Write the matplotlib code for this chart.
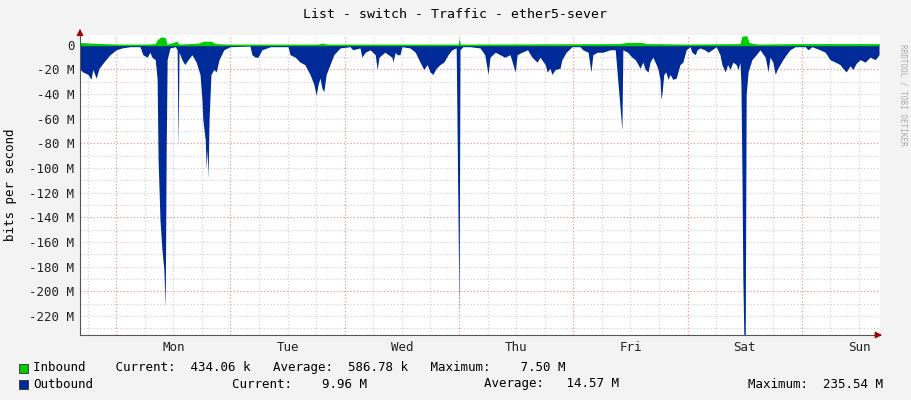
import matplotlib
matplotlib.use("Agg")
import matplotlib.pyplot as plt
import numpy as np

title = "List - switch - Traffic - ether5-sever"
day_labels = ["Mon", "Tue", "Wed", "Thu", "Fri", "Sat", "Sun"]
first_midnight_h = 7.6  # hours from chart start to Monday 00:00

out_h = [0,0.6,1.7,2.3,2.7,3.4,4.0,5.0,6.3,7.6,8.8,10.5,12.6,13.2,14.1,14.7,15.1,15.8,16.2,16.4,16.8,17.2,17.6,17.9,18.1,18.3,18.9,20,20.4,20.6,20.8,21.4,22,22.7,23.5,24.4,25.2,25.6,25.8,26.3,26.5,26.7,26.9,27.1,27.5,28.1,28.6,29.2,30.2,31.5,35.7,36.1,36.8,37.4,38.2,40,43.7,44.1,45.2,46.2,47.2,48.3,49.1,49.6,50,50.4,50.8,51.2,51.7,52.5,53.3,54.6,56.7,57.3,58.8,59.2,59.9,60.9,62,62.4,62.8,64,65.5,65.7,66.2,66.6,67.2,67.6,69.3,70.4,71.4,72.2,72.9,73.5,74.1,74.8,75.6,76.4,77.3,78.1,79.0,79.6,79.8,80.4,81.9,84,85,85.7,86.1,87.2,88.2,89.2,90.3,91.4,91.8,92.8,94,94.9,96,96.6,97.7,98.1,98.7,99.1,99.8,100.8,101.2,102.1,103.3,105,105.6,106.7,107.3,107.7,108.6,109.8,111.3,112.4,113.8,114,115,115.9,116.6,117.2,117.6,118.2,118.7,119.3,119.7,120.3,121,121.4,121.8,122,122.2,122.6,123,123.5,123.9,124.5,125.2,126,126.6,127.3,128.1,128.5,129.2,129.6,130.2,131.2,131.9,132.7,133.6,134.4,134.8,135.5,136,136.5,137.1,137.8,138.2,138.6,138.8,139,139.2,139.4,139.7,139.9,140.3,141.1,142,142.8,143.9,144.5,144.9,145.5,146,146.4,147,147.6,148.3,149.1,150.2,152.3,152.9,153.7,155.4,156.5,157.5,158.6,159.6,160.2,160.9,161.7,162.3,163,163.8,164.9,165.9,167,167.8]
out_m = [20,22,24,28,20,27,19,14,8,4,2.5,1.5,1.5,8,10,6,10,12,28,93,142,166,182,213,85,12,2.5,1.5,4,83,6,12,16,12,8,14,24,44,61,77,100,85,108,61,24,20,22,12,4,1.5,1,8,10,10,4,1.5,1.5,8,10,14,16,24,32,41,32,27,35,38,24,16,8,2.5,1.5,4,2.5,10,6,4,8,20,10,6,10,14,6,8,8,1.5,2.5,6,14,20,16,22,24,19,16,14,8,4,2.5,218,4,1.5,1.5,2.5,8,24,10,6,8,10,8,22,8,6,4,10,14,10,16,22,19,24,20,19,12,6,1.5,1.5,4,6,22,8,6,6,4,4,69,4,6,10,12,16,19,14,20,22,14,10,16,20,28,44,40,24,22,28,24,28,27,16,14,4,1.5,6,8,4,2.5,4,6,4,1.5,8,16,22,16,20,14,16,20,14,32,101,190,235,235,40,22,12,8,4,10,22,10,14,24,20,16,12,8,4,1.5,1.5,4,1.5,4,6,12,14,16,19,22,17,20,15,12,14,10,12,8]

in_h = [0,2,5,8,14,15.8,16.2,17,17.9,18.3,20.4,20.8,25,26,27.5,28.5,31,50,50.8,52,79.4,79.6,79.9,113,115,118,119,121,127,138.6,139,140,140.5,141.5,142.5,150,158,165,167.8]
in_m = [2,1.5,1,0.5,0.5,1,4,6.5,6,0.5,3,0.5,1.5,3,3,1,0.5,0.5,1.5,0.5,0.5,5,0.5,1,2,2,1,1,0.5,1,7,7.5,2,1,0.5,1,1,1,1]

W, H = 911, 400
fig = plt.figure(figsize=(W/100, H/100), dpi=100, facecolor="#f3f3f3")
ax = fig.add_axes([80/W, 1-335/H, 800/W, 300/H])
ax.set_facecolor("white")
mono = "DejaVu Sans Mono"

ax.fill_between(out_h, 0, -np.array(out_m), color="#002a97", lw=0)
ax.fill_between(in_h, 0, in_m, color="#00cc00", lw=0)
ax.plot([0, 168], [0, 0], color="#00cc00", lw=1)

ax.set_xlim(0, 168)
ax.set_ylim(-235.5, 8)

# grids
for g in np.arange(first_midnight_h - 6, 168, 6):
    ax.axvline(g, color="#cccccc", ls=(0, (1, 2)), lw=0.8, zorder=0)
for d in range(7):
    ax.axvline(first_midnight_h + 24*d, color="#ee9999", ls=(0, (1, 2)), lw=0.8, zorder=0.5)
for v in np.arange(0, -231, -10):
    ax.axhline(v, color="#cccccc", ls=(0, (1, 2)), lw=0.8, zorder=0)
for v in [-20, -80, -140, -200]:
    ax.axhline(v, color="#ee9999", ls=(0, (1, 2)), lw=0.8, zorder=0.5)

yt = list(range(0, -221, -20))
ax.set_yticks(yt)
ax.set_yticklabels(["0" if v == 0 else f"{v} M" for v in yt], fontfamily=mono, fontsize=9)
xt = [first_midnight_h + 12 + 24*d for d in range(7)]
ax.set_xticks(xt)
ax.set_xticklabels(day_labels, fontfamily=mono, fontsize=9)
ax.tick_params(length=0, pad=4, colors="#222222")
for s in ["top", "right"]:
    ax.spines[s].set_visible(False)
for s in ["left", "bottom"]:
    ax.spines[s].set_color("#555555")
ax.annotate("", xy=(1.006, 0), xycoords="axes fraction", xytext=(0.99, 0),
            arrowprops=dict(arrowstyle="-|>", color="#aa0000", lw=0.8))
ax.annotate("", xy=(0, 1.03), xycoords="axes fraction", xytext=(0, 0.99),
            arrowprops=dict(arrowstyle="-|>", color="#aa0000", lw=0.8))

fig.text(455/W, 1-14/H, title, ha="center", va="center", fontfamily=mono, fontsize=9.5)
fig.text(11/W, 1-185/H, "bits per second", rotation=90, ha="center", va="center",
         fontfamily=mono, fontsize=9)
fig.text(903/W, 1-95/H, "RRDTOOL / TOBI OETIKER", rotation=270, ha="center", va="center",
         fontfamily=mono, fontsize=5.5, color="#aaaaaa")

for yy, col in [(368, "#00cc00"), (384, "#002a97")]:
    fig.patches.append(plt.Rectangle((19/W, 1-(yy+5)/H), 9/W, 9/H, transform=fig.transFigure,
                                     facecolor=col, edgecolor="#333333", lw=0.6))
fig.text(33/W, 1-368/H, "Inbound    Current:  434.06 k   Average:  586.78 k   Maximum:    7.50 M",
         va="center", fontfamily=mono, fontsize=9)
fig.text(33/W, 1-384/H, "Outbound", va="center", fontfamily=mono, fontsize=9)
fig.text(232/W, 1-384/H, "Current:    9.96 M", va="center", fontfamily=mono, fontsize=9)
fig.text(484/W, 1-384/H, "Average:   14.57 M", va="center", fontfamily=mono, fontsize=9)
fig.text(748/W, 1-384/H, "Maximum:  235.54 M", va="center", fontfamily=mono, fontsize=9)

fig.savefig("out.png", dpi=100, facecolor=fig.get_facecolor())
